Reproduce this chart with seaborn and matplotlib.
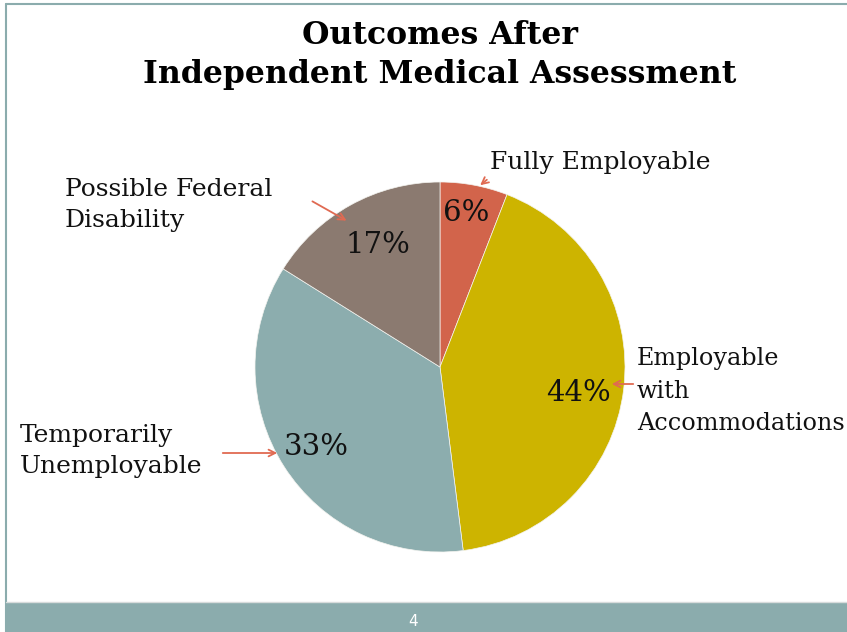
import matplotlib
matplotlib.use("Agg")
import matplotlib.pyplot as plt
from matplotlib.patches import Rectangle
from matplotlib.lines import Line2D
import seaborn as sns

# ---- data ----
categories = ["Fully Employable", "Employable with Accommodations",
              "Temporarily Unemployable", "Possible Federal Disability"]
label_texts = ["Fully Employable", "Employable\nwith\nAccommodations",
               "Temporarily\nUnemployable", "Possible Federal\nDisability"]
slice_values = [5.9, 42.1, 35.9, 16.1]     # as drawn in the picture
pct_labels = ["6%", "44%", "33%", "17%"]   # as printed on the slices
colors = ["#D2644B", "#CDB400", "#8CADAE", "#8B7A70"]

sns.set_theme(style="white")
plt.rcParams['font.family'] = ['DejaVu Serif', 'Liberation Serif']

W, H = 847, 632
fig = plt.figure(figsize=(W / 100, H / 100), dpi=100)
fig.patch.set_facecolor("white")

cx, cy, r = 440, 367, 185
ax = fig.add_axes([(cx - r) / W, (H - cy - r) / H, 2 * r / W, 2 * r / H])
ax.pie(slice_values, colors=colors, startangle=90, counterclock=False,
       radius=1, wedgeprops=dict(linewidth=0.5, edgecolor="#F4F4F0"))
ax.set_xlim(-1, 1)
ax.set_ylim(-1, 1)
ax.set_aspect("equal")
ax.axis("off")


def fx(px):
    return px / W


def fy(py):
    return 1 - py / H


# title
fig.text(fx(440), fy(35), "Outcomes After", ha="center", va="center",
         fontsize=22.7, fontweight="bold", color="black")
fig.text(fx(440), fy(74), "Independent Medical Assessment", ha="center",
         va="center", fontsize=22.7, fontweight="bold", color="black")

# percent labels on slices
pct_pos = [(466, 213), (578, 393), (316, 447), (378, 245)]
for t, (px, py) in zip(pct_labels, pct_pos):
    fig.text(fx(px), fy(py), t, ha="center", va="center", fontsize=21,
             color="#111111")

# category labels with arrows
arrow_color = "#E06A52"
lab_pos = [(490, 162), (637, 391), (20, 451), (65, 205)]
lab_sizes = [18, 17.2, 18, 18]
lab_spacing = [1.47, 1.52, 1.47, 1.47]
arrows = [((489, 178), (478, 187)), ((636, 384), (609, 384)),
          ((220, 453), (280, 453)), ((310, 200), (349, 222))]
for t, (px, py), fs, ls, (start, end) in zip(label_texts, lab_pos, lab_sizes,
                                             lab_spacing, arrows):
    fig.text(fx(px), fy(py), t, ha="left", va="center", fontsize=fs,
             color="#111111", linespacing=ls)
    ax.annotate("", xy=(fx(end[0]), fy(end[1])), xycoords="figure fraction",
                xytext=(fx(start[0]), fy(start[1])),
                textcoords="figure fraction",
                arrowprops=dict(arrowstyle="->", color=arrow_color, lw=1.3))

# frame and footer
frame_color = "#8BACAD"
fig.add_artist(Line2D([fx(6), fx(6)], [0, fy(4)], color=frame_color, lw=1.5))
fig.add_artist(Line2D([fx(6), 1], [fy(4), fy(4)], color=frame_color, lw=1.5))
fig.add_artist(Line2D([fx(6), 1], [fy(602), fy(602)], color="#D8DCDC", lw=1))
fig.add_artist(Rectangle((fx(7), 0), 1 - fx(7), 29 / H,
                         transform=fig.transFigure, facecolor=frame_color,
                         edgecolor="none"))
fig.text(fx(413), fy(622), "4", ha="center", va="center", fontsize=11,
         color="white", family="DejaVu Sans")

fig.savefig("out.png", dpi=100)
